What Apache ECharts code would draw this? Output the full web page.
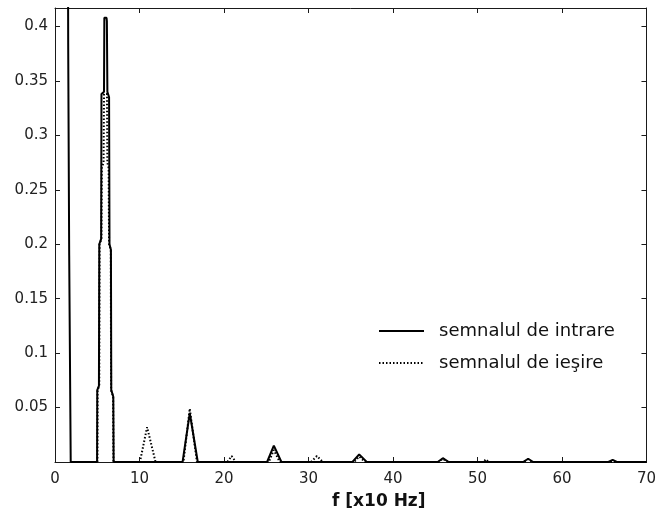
<!DOCTYPE html>
<html>
<head>
<meta charset="utf-8">
<script src="https://cdn.jsdelivr.net/npm/echarts@6/dist/echarts.min.js"></script>
<style>
  html, body { margin: 0; padding: 0; background: #fff; }
  #chart { width: 659px; height: 513px; }
</style>
</head>
<body>
<div id="chart"></div>
<script>
// Amplitude spectra of the input and output signals, frequency in units of 10 Hz.
var inputFreq = [0, 1.5, 1.56, 1.68, 1.86,
  4.98, 5.0, 5.2, 5.24, 5.46, 5.5, 5.8, 5.84, 6.1, 6.14, 6.2, 6.4, 6.45, 6.62, 6.66, 6.9, 6.94,
  15.1, 15.95, 16.9,
  25.1, 25.9, 26.8,
  35.2, 36.0, 36.9,
  45.3, 45.9, 46.6,
  55.4, 56.0, 56.6,
  65.5, 66.0, 66.5, 70];
var inputAmp = [0.9, 0.6, 0.385, 0.19, 0,
  0, 0.066, 0.07, 0.2, 0.205, 0.338, 0.34, 0.408, 0.408, 0.405, 0.34, 0.335, 0.2, 0.195, 0.066, 0.06, 0,
  0, 0.045, 0,
  0, 0.015, 0,
  0, 0.007, 0,
  0, 0.0035, 0,
  0, 0.003, 0,
  0, 0.002, 0, 0];

var outputFreq = [5.02, 5.04, 5.24, 5.28, 5.5, 5.54, 5.75, 5.8, 6.15, 6.2, 6.35, 6.4, 6.6, 6.64, 6.88, 6.92,
  10.05, 10.9, 11.9,
  15.2, 15.95, 16.8,
  20.4, 20.9, 21.4,
  25.3, 25.9, 26.6,
  30.3, 31.0, 31.7,
  35.4, 36.0, 36.7,
  45.4, 45.9, 46.5,
  50.7, 51.0, 51.3,
  55.5, 56.0, 56.5,
  60.8, 61.0, 61.2, 70];
var outputAmp = [0, 0.066, 0.07, 0.2, 0.205, 0.27, 0.275, 0.338, 0.338, 0.275, 0.27, 0.2, 0.195, 0.066, 0.06, 0,
  0, 0.032, 0,
  0, 0.049, 0,
  0, 0.0055, 0,
  0, 0.011, 0,
  0, 0.0055, 0,
  0, 0.005, 0,
  0, 0.003, 0,
  0, 0.0025, 0,
  0, 0.0025, 0,
  0, 0.001, 0, 0];

var xTicks = [0, 10, 20, 30, 40, 50, 60, 70];
var yTicks = [0.05, 0.1, 0.15, 0.2, 0.25, 0.3, 0.35, 0.4];
var seriesNames = ['semnalul de intrare', 'semnalul de ie\u015Fire'];
var xTitle = 'f [x10 Hz]';

function zip(xs, ys) {
  return xs.map(function (x, i) { return [x, ys[i]]; });
}

var FONT = 'DejaVu Sans';
var axisColor = '#1a1a1a';

function xAxisDef(pos, showLabels) {
  return {
    type: 'value', position: pos, min: 0, max: 70, interval: 10,
    axisLine: { show: true, onZero: false, lineStyle: { color: axisColor, width: 1 } },
    axisTick: { show: true, inside: true, length: 5, customValues: xTicks, lineStyle: { color: axisColor } },
    axisLabel: { show: showLabels, customValues: xTicks, color: '#222', fontFamily: FONT, fontSize: 15, margin: 10 },
    splitLine: { show: false }
  };
}
function yAxisDef(pos, showLabels) {
  return {
    type: 'value', position: pos, min: 0, max: 0.417,
    axisLine: { show: true, onZero: false, lineStyle: { color: axisColor, width: 1 } },
    axisTick: { show: true, inside: true, length: 5, customValues: yTicks, lineStyle: { color: axisColor } },
    axisLabel: {
      show: showLabels, customValues: yTicks, color: '#222', fontFamily: FONT, fontSize: 15, margin: 7,
      formatter: function (v) { return String(parseFloat(v.toFixed(2))); }
    },
    splitLine: { show: false }
  };
}

function legendDef(name, top) {
  return {
    data: [name], left: 378, top: top, padding: 0, itemWidth: 45, itemHeight: 14,
    itemStyle: { opacity: 0 },
    textStyle: { fontFamily: FONT, fontSize: 18, color: '#111', padding: [0, 0, 0, 10] }
  };
}

var chart = echarts.init(document.getElementById('chart'), null, { renderer: 'canvas' });
chart.setOption({
  animation: false,
  backgroundColor: '#fff',
  textStyle: { fontFamily: FONT },
  grid: { left: 55, right: 6, top: 8, bottom: 51, containLabel: false },
  xAxis: [xAxisDef('bottom', true), xAxisDef('top', false)],
  yAxis: [yAxisDef('left', true), yAxisDef('right', false)],
  graphic: [{
    type: 'text', left: 332, top: 493,
    style: { text: xTitle, font: 'bold 17px "DejaVu Sans"', fill: '#111' }
  }],
  legend: [legendDef(seriesNames[0], 322), legendDef(seriesNames[1], 354)],
  series: [
    {
      name: seriesNames[0], type: 'line', data: zip(inputFreq, inputAmp),
      symbol: 'none', clip: true, color: '#000',
      lineStyle: { color: '#000', width: 2, type: 'solid' }
    },
    {
      name: seriesNames[1], type: 'line', data: zip(outputFreq, outputAmp),
      symbol: 'none', clip: true, color: '#000',
      lineStyle: { color: '#000', width: 2, type: [1.5, 2] }
    }
  ]
});
</script>
</body>
</html>
